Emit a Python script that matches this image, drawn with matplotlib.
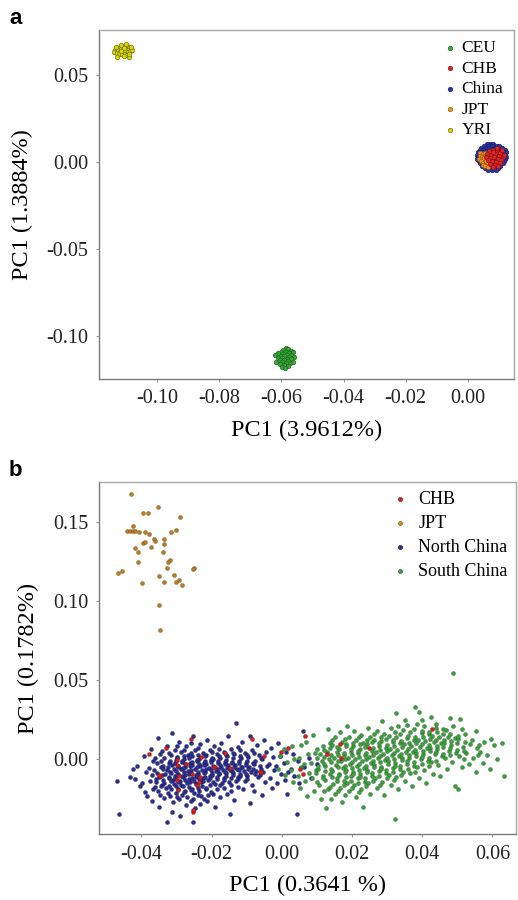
import matplotlib
matplotlib.use("Agg")
import matplotlib.pyplot as plt

plt.rcParams['font.family'] = ['Liberation Serif', 'DejaVu Serif']
plt.rcParams['axes.unicode_minus'] = False

# ---- panel a: PCA with HapMap populations ----
yri = [(-0.1128, 0.0655), (-0.1120, 0.0662), (-0.1112, 0.0668), (-0.1104, 0.0660), (-0.1097, 0.0665),
       (-0.1090, 0.0652), (-0.1134, 0.0645), (-0.1125, 0.0640), (-0.1116, 0.0648), (-0.1108, 0.0643),
       (-0.1100, 0.0650), (-0.1093, 0.0640), (-0.1085, 0.0646), (-0.1138, 0.0633), (-0.1130, 0.0628),
       (-0.1119, 0.0632), (-0.1110, 0.0627), (-0.1102, 0.0634), (-0.1095, 0.0629), (-0.1088, 0.0635),
       (-0.1080, 0.0640), (-0.1122, 0.0620), (-0.1112, 0.0617), (-0.1104, 0.0621), (-0.1096, 0.0615),
       (-0.1128, 0.0604), (-0.1106, 0.0606), (-0.1090, 0.0601), (-0.1115, 0.0672), (-0.1099, 0.0674),
       (-0.1083, 0.0658), (-0.1132, 0.0660), (-0.1107, 0.0653), (-0.1089, 0.0622), (-0.1117, 0.0638)]

ceu = [(-0.0585, -0.1068), (-0.0578, -0.1075), (-0.0594, -0.1080), (-0.0570, -0.1085), (-0.0602, -0.1090),
       (-0.0586, -0.1092), (-0.0562, -0.1095), (-0.0575, -0.1100), (-0.0595, -0.1103), (-0.0610, -0.1100),
       (-0.0583, -0.1108), (-0.0568, -0.1110), (-0.0600, -0.1113), (-0.0590, -0.1118), (-0.0576, -0.1120),
       (-0.0560, -0.1123), (-0.0612, -0.1125), (-0.0597, -0.1128), (-0.0582, -0.1130), (-0.0570, -0.1135),
       (-0.0605, -0.1138), (-0.0590, -0.1140), (-0.0578, -0.1145), (-0.0617, -0.1148), (-0.0598, -0.1150),
       (-0.0585, -0.1155), (-0.0572, -0.1158), (-0.0606, -0.1162), (-0.0592, -0.1168), (-0.0580, -0.1172),
       (-0.0598, -0.1178), (-0.0588, -0.1183), (-0.0564, -0.1150), (-0.0620, -0.1110)]

china = [(0.0070, 0.0105), (0.0082, 0.0105), (0.0061, 0.0103),
         (0.0052, 0.0092), (0.0064, 0.0092), (0.0079, 0.0092), (0.0093, 0.0092), (0.0101, 0.0092),
         (0.0043, 0.0080), (0.0057, 0.0080), (0.0068, 0.0080), (0.0088, 0.0080), (0.0098, 0.0080), (0.0110, 0.0080),
         (0.0038, 0.0067), (0.0049, 0.0067), (0.0074, 0.0067), (0.0096, 0.0067), (0.0108, 0.0067), (0.0118, 0.0067),
         (0.0034, 0.0055), (0.0046, 0.0055), (0.0061, 0.0055), (0.0102, 0.0055), (0.0114, 0.0055), (0.0122, 0.0055),
         (0.0031, 0.0042), (0.0044, 0.0042), (0.0110, 0.0042), (0.0121, 0.0042),
         (0.0033, 0.0030), (0.0041, 0.0030), (0.0112, 0.0030), (0.0124, 0.0030),
         (0.0030, 0.0017), (0.0045, 0.0017), (0.0108, 0.0017), (0.0120, 0.0017),
         (0.0035, 0.0004), (0.0049, 0.0004), (0.0103, 0.0004), (0.0116, 0.0004),
         (0.0040, -0.0009), (0.0056, -0.0009), (0.0071, -0.0009), (0.0097, -0.0009), (0.0112, -0.0009),
         (0.0047, -0.0022), (0.0062, -0.0022), (0.0079, -0.0022), (0.0091, -0.0022), (0.0105, -0.0022),
         (0.0055, -0.0035), (0.0068, -0.0035), (0.0084, -0.0035), (0.0098, -0.0035),
         (0.0064, -0.0048), (0.0078, -0.0048), (0.0090, -0.0048),
         (0.0060, 0.0060), (0.0075, 0.0075), (0.0090, 0.0065), (0.0055, 0.0040), (0.0070, 0.0030),
         (0.0085, 0.0035), (0.0100, 0.0045), (0.0060, 0.0015), (0.0080, 0.0010), (0.0095, 0.0020),
         (0.0065, -0.0005), (0.0085, -0.0010)]

chb_a = [(0.0068, 0.0062), (0.0080, 0.0070), (0.0093, 0.0058), (0.0105, 0.0050), (0.0062, 0.0045),
         (0.0075, 0.0040), (0.0088, 0.0044), (0.0100, 0.0036), (0.0112, 0.0030), (0.0058, 0.0028),
         (0.0070, 0.0022), (0.0084, 0.0026), (0.0096, 0.0018), (0.0108, 0.0012), (0.0065, 0.0008),
         (0.0078, 0.0004), (0.0091, 0.0000), (0.0103, -0.0006), (0.0072, -0.0012), (0.0086, -0.0018),
         (0.0098, -0.0024), (0.0080, -0.0032), (0.0093, 0.0080), (0.0110, 0.0068), (0.0116, 0.0042),
         (0.0082, 0.0054)]

jpt_a = [(0.0040, 0.0050), (0.0048, 0.0044), (0.0056, 0.0052), (0.0038, 0.0034), (0.0046, 0.0028),
         (0.0054, 0.0036), (0.0062, 0.0030), (0.0036, 0.0018), (0.0044, 0.0012), (0.0052, 0.0020),
         (0.0060, 0.0014), (0.0042, 0.0002), (0.0050, -0.0004), (0.0058, 0.0004), (0.0066, -0.0006),
         (0.0048, -0.0016), (0.0056, -0.0022), (0.0064, -0.0030), (0.0070, 0.0016)]

# ---- panel b: Chinese samples with CHB / JPT ----
chb_b = [(-0.0260, 0.0127), (-0.0329, 0.0074), (-0.0378, 0.0032), (-0.0298, -0.0002), (-0.0229, 0.0015),
         (-0.0272, -0.0027), (-0.0299, -0.0038), (-0.0348, -0.0103), (-0.0293, -0.0103), (-0.0257, -0.0091),
         (-0.0234, -0.0112), (-0.0236, -0.0144), (-0.0189, -0.0049), (-0.0162, 0.0042), (-0.0148, -0.0055),
         (-0.0085, 0.0128), (-0.0051, 0.0021), (-0.0062, -0.0080), (-0.0001, 0.0046), (0.0018, 0.0074),
         (0.0053, -0.0059), (0.0066, 0.0148), (0.0129, 0.0032), (0.0165, 0.0099), (0.0170, 0.0011),
         (0.0249, 0.0072), (0.0429, 0.0194), (-0.0295, -0.0196), (-0.0254, -0.0334), (0.0059, -0.0091),
         (-0.0350, -0.0101), (-0.0253, -0.0323), (-0.0193, -0.0049), (-0.0058, -0.0080), (-0.0243, -0.0165),
         (-0.0300, -0.0133)]

jpt_b = [(-0.0431, 0.1677), (-0.0352, 0.1595), (-0.0395, 0.1561), (-0.0381, 0.1559), (-0.0291, 0.1534),
         (-0.0424, 0.1477), (-0.0440, 0.1445), (-0.0433, 0.1445), (-0.0425, 0.1445), (-0.0417, 0.1445),
         (-0.0407, 0.1439), (-0.0390, 0.1437), (-0.0378, 0.1424), (-0.0302, 0.1454), (-0.0315, 0.1437),
         (-0.0417, 0.1337), (-0.0364, 0.1392), (-0.0362, 0.1382), (-0.0337, 0.1392), (-0.0395, 0.1369),
         (-0.0391, 0.1375), (-0.0373, 0.1342), (-0.0337, 0.1365), (-0.0409, 0.1312), (-0.0338, 0.1312),
         (-0.0319, 0.1259), (-0.0323, 0.1248), (-0.0409, 0.1250), (-0.0467, 0.1182), (-0.0455, 0.1193),
         (-0.0251, 0.1213), (-0.0253, 0.1205), (-0.0327, 0.1213), (-0.0397, 0.1116), (-0.0350, 0.1163),
         (-0.0336, 0.1123), (-0.0308, 0.1167), (-0.0302, 0.1125), (-0.0293, 0.1133), (-0.0285, 0.1103),
         (-0.0351, 0.0979), (-0.0346, 0.0821)]

north_china = [
    (-0.0464, -0.0348), (-0.0470, -0.0140), (-0.0432, -0.0115), (-0.0425, -0.0060),
    (-0.0412, -0.0045), (-0.0405, -0.0170), (-0.0418, -0.0122),
    (-0.0392, 0.0020), (-0.0386, -0.0082), (-0.0397, -0.0150), (-0.0389, -0.0205), (-0.0383, -0.0232),
    (-0.0373, 0.0062), (-0.0366, -0.0010), (-0.0378, -0.0058), (-0.0369, -0.0101), (-0.0375, -0.0136),
    (-0.0362, -0.0176), (-0.0371, -0.0262),
    (-0.0352, 0.0135), (-0.0346, 0.0031), (-0.0357, -0.0024), (-0.0343, -0.0052), (-0.0355, -0.0086),
    (-0.0349, -0.0111), (-0.0358, -0.0141), (-0.0341, -0.0166), (-0.0353, -0.0198), (-0.0347, -0.0226),
    (-0.0351, -0.0301),
    (-0.0328, 0.0085), (-0.0335, 0.0011), (-0.0322, -0.0021), (-0.0338, -0.0044), (-0.0326, -0.0071),
    (-0.0333, -0.0094), (-0.0321, -0.0121), (-0.0337, -0.0149), (-0.0329, -0.0181), (-0.0324, -0.0211),
    (-0.0336, -0.0244), (-0.0328, -0.0400),
    (-0.0312, 0.0165), (-0.0305, 0.0061), (-0.0317, 0.0026), (-0.0302, -0.0004), (-0.0314, -0.0036),
    (-0.0308, -0.0059), (-0.0318, -0.0081), (-0.0303, -0.0104), (-0.0311, -0.0131), (-0.0306, -0.0154),
    (-0.0315, -0.0186), (-0.0301, -0.0214), (-0.0309, -0.0271), (-0.0313, -0.0331),
    (-0.0293, 0.0110), (-0.0286, 0.0046), (-0.0298, 0.0014), (-0.0284, -0.0016), (-0.0295, -0.0041),
    (-0.0288, -0.0064), (-0.0297, -0.0091), (-0.0282, -0.0114), (-0.0291, -0.0139), (-0.0287, -0.0161),
    (-0.0296, -0.0189), (-0.0283, -0.0226), (-0.0292, -0.0254), (-0.0289, -0.0362),
    (-0.0273, 0.0081), (-0.0266, 0.0029), (-0.0278, 0.0001), (-0.0262, -0.0026), (-0.0275, -0.0049),
    (-0.0268, -0.0076), (-0.0277, -0.0099), (-0.0264, -0.0126), (-0.0271, -0.0151), (-0.0265, -0.0174),
    (-0.0276, -0.0201), (-0.0269, -0.0241), (-0.0272, -0.0289),
    (-0.0252, 0.0150), (-0.0246, 0.0056), (-0.0257, 0.0019), (-0.0243, -0.0011), (-0.0255, -0.0034),
    (-0.0248, -0.0061), (-0.0258, -0.0084), (-0.0244, -0.0111), (-0.0251, -0.0136), (-0.0245, -0.0159),
    (-0.0256, -0.0186), (-0.0249, -0.0214), (-0.0253, -0.0251), (-0.0247, -0.0311), (-0.0254, -0.0398),
    (-0.0232, 0.0096), (-0.0225, 0.0041), (-0.0237, 0.0004), (-0.0223, -0.0021), (-0.0234, -0.0044),
    (-0.0228, -0.0071), (-0.0238, -0.0096), (-0.0224, -0.0119), (-0.0231, -0.0146), (-0.0226, -0.0169),
    (-0.0236, -0.0201), (-0.0229, -0.0234), (-0.0233, -0.0281),
    (-0.0213, 0.0120), (-0.0206, 0.0059), (-0.0217, 0.0026), (-0.0203, -0.0006), (-0.0215, -0.0029),
    (-0.0208, -0.0056), (-0.0218, -0.0079), (-0.0204, -0.0106), (-0.0211, -0.0129), (-0.0205, -0.0161),
    (-0.0216, -0.0189), (-0.0209, -0.0226), (-0.0212, -0.0266),
    (-0.0192, 0.0086), (-0.0185, 0.0031), (-0.0197, -0.0001), (-0.0183, -0.0026), (-0.0194, -0.0049),
    (-0.0188, -0.0076), (-0.0198, -0.0099), (-0.0184, -0.0126), (-0.0191, -0.0154), (-0.0186, -0.0186),
    (-0.0195, -0.0219), (-0.0189, -0.0301),
    (-0.0172, 0.0105), (-0.0165, 0.0049), (-0.0177, 0.0011), (-0.0163, -0.0019), (-0.0174, -0.0046),
    (-0.0168, -0.0069), (-0.0178, -0.0096), (-0.0164, -0.0121), (-0.0171, -0.0149), (-0.0166, -0.0181),
    (-0.0175, -0.0239),
    (-0.0152, 0.0145), (-0.0145, 0.0064), (-0.0157, 0.0021), (-0.0143, -0.0016), (-0.0154, -0.0039),
    (-0.0148, -0.0066), (-0.0158, -0.0089), (-0.0144, -0.0116), (-0.0151, -0.0144), (-0.0146, -0.0201),
    (-0.0149, -0.0349),
    (-0.0130, 0.0228), (-0.0125, 0.0080), (-0.0137, 0.0031), (-0.0123, -0.0011), (-0.0134, -0.0034),
    (-0.0128, -0.0061), (-0.0138, -0.0084), (-0.0124, -0.0111), (-0.0131, -0.0139), (-0.0126, -0.0176),
    (-0.0135, -0.0259),
    (-0.0112, 0.0111), (-0.0105, 0.0039), (-0.0117, 0.0006), (-0.0103, -0.0026), (-0.0114, -0.0049),
    (-0.0108, -0.0076), (-0.0118, -0.0104), (-0.0104, -0.0136), (-0.0111, -0.0189),
    (-0.0092, 0.0150), (-0.0085, 0.0061), (-0.0097, 0.0014), (-0.0083, -0.0021), (-0.0094, -0.0049),
    (-0.0088, -0.0081), (-0.0098, -0.0109), (-0.0084, -0.0161), (-0.0091, -0.0279),
    (-0.0072, 0.0091), (-0.0065, 0.0029), (-0.0077, -0.0011), (-0.0063, -0.0044), (-0.0074, -0.0076),
    (-0.0068, -0.0114), (-0.0078, -0.0201),
    (-0.0052, 0.0121), (-0.0045, 0.0044), (-0.0057, 0.0001), (-0.0043, -0.0041), (-0.0054, -0.0079),
    (-0.0048, -0.0141), (-0.0056, -0.0229),
    (-0.0032, 0.0071), (-0.0025, 0.0016), (-0.0037, -0.0029), (-0.0023, -0.0071), (-0.0034, -0.0119),
    (-0.0028, -0.0181),
    (-0.0012, 0.0101), (-0.0005, 0.0019), (-0.0017, -0.0041), (-0.0003, -0.0094), (-0.0014, -0.0151),
    (0.0012, 0.0049), (0.0005, -0.0021), (0.0017, -0.0079), (0.0008, -0.0131), (0.0014, -0.0219),
    (0.0032, 0.0031), (0.0026, -0.0061), (0.0035, -0.0109),
    (0.0043, -0.0348), (0.0046, -0.0009), (0.0049, -0.0151),
    (0.0061, 0.0180), (0.0064, -0.0049), (0.0078, 0.0011), (0.0083, -0.0119), (0.0101, -0.0031),
    # denser core between the columns above
    (-0.0361, 0.0008), (-0.0364, -0.0070), (-0.0359, -0.0122), (-0.0366, -0.0190),
    (-0.0340, 0.0052), (-0.0344, -0.0008), (-0.0339, -0.0062), (-0.0342, -0.0099), (-0.0338, -0.0132),
    (-0.0345, -0.0172),
    (-0.0320, 0.0040), (-0.0318, -0.0012), (-0.0323, -0.0052), (-0.0316, -0.0085), (-0.0321, -0.0112),
    (-0.0317, -0.0140), (-0.0322, -0.0168), (-0.0319, -0.0230),
    (-0.0300, 0.0082), (-0.0298, 0.0008), (-0.0303, -0.0022), (-0.0296, -0.0048), (-0.0301, -0.0072),
    (-0.0299, -0.0097), (-0.0304, -0.0121), (-0.0297, -0.0147), (-0.0302, -0.0172), (-0.0300, -0.0240),
    (-0.0280, 0.0060), (-0.0278, 0.0018), (-0.0283, -0.0008), (-0.0276, -0.0033), (-0.0281, -0.0057),
    (-0.0279, -0.0083), (-0.0284, -0.0107), (-0.0277, -0.0132), (-0.0282, -0.0168), (-0.0280, -0.0210),
    (-0.0260, 0.0100), (-0.0258, 0.0040), (-0.0263, 0.0008), (-0.0256, -0.0019), (-0.0261, -0.0043),
    (-0.0259, -0.0068), (-0.0264, -0.0093), (-0.0257, -0.0118), (-0.0262, -0.0145), (-0.0260, -0.0193),
    (-0.0258, -0.0265),
    (-0.0240, 0.0072), (-0.0238, 0.0030), (-0.0243, -0.0003), (-0.0236, -0.0028), (-0.0241, -0.0052),
    (-0.0239, -0.0078), (-0.0244, -0.0102), (-0.0237, -0.0127), (-0.0242, -0.0155), (-0.0240, -0.0180),
    (-0.0238, -0.0226),
    (-0.0220, 0.0018), (-0.0218, -0.0012), (-0.0223, -0.0036), (-0.0216, -0.0063), (-0.0221, -0.0088),
    (-0.0219, -0.0112), (-0.0224, -0.0138), (-0.0217, -0.0180), (-0.0222, -0.0250),
    (-0.0200, 0.0045), (-0.0198, 0.0010), (-0.0203, -0.0017), (-0.0196, -0.0040), (-0.0201, -0.0066),
    (-0.0199, -0.0090), (-0.0204, -0.0116), (-0.0197, -0.0142), (-0.0202, -0.0205),
    (-0.0180, 0.0068), (-0.0178, 0.0020), (-0.0183, -0.0010), (-0.0176, -0.0036), (-0.0181, -0.0060),
    (-0.0179, -0.0086), (-0.0184, -0.0111), (-0.0177, -0.0165),
    (-0.0160, 0.0030), (-0.0158, -0.0005), (-0.0163, -0.0030), (-0.0156, -0.0056), (-0.0161, -0.0080),
    (-0.0159, -0.0105), (-0.0164, -0.0133), (-0.0157, -0.0220),
    (-0.0140, 0.0042), (-0.0138, 0.0005), (-0.0143, -0.0026), (-0.0136, -0.0050), (-0.0141, -0.0075),
    (-0.0139, -0.0100), (-0.0144, -0.0160),
    (-0.0120, 0.0058), (-0.0118, 0.0018), (-0.0123, -0.0022), (-0.0116, -0.0046), (-0.0121, -0.0070),
    (-0.0119, -0.0095), (-0.0124, -0.0122),
    (-0.0100, 0.0025), (-0.0098, -0.0010), (-0.0103, -0.0036), (-0.0096, -0.0064), (-0.0101, -0.0092),
    (-0.0099, -0.0125),
    (-0.0080, 0.0040), (-0.0078, -0.0032), (-0.0083, -0.0060), (-0.0076, -0.0095),
    (-0.0060, 0.0008), (-0.0058, -0.0060), (-0.0062, -0.0100)]

south_china = [
    (-0.0012, -0.0061), (-0.0006, 0.0021), (0.0008, -0.0101), (0.0014, -0.0019), (0.0005, 0.0062),
    (0.0031, -0.0142), (0.0025, -0.0069), (0.0036, 0.0001), (0.0028, 0.0081),
    (0.0052, -0.0181), (0.0045, -0.0109), (0.0056, -0.0051), (0.0048, 0.0011), (0.0054, 0.0091),
    (0.0071, -0.0231), (0.0066, -0.0139), (0.0077, -0.0086), (0.0063, -0.0029), (0.0074, 0.0031),
    (0.0068, 0.0112),
    (0.0092, -0.0201), (0.0085, -0.0121), (0.0097, -0.0069), (0.0083, -0.0021), (0.0094, 0.0041),
    (0.0088, 0.0151),
    (0.0112, -0.0249), (0.0105, -0.0161), (0.0117, -0.0104), (0.0103, -0.0061), (0.0114, -0.0014),
    (0.0108, 0.0031), (0.0118, 0.0086),
    (0.0127, -0.0311), (0.0133, -0.0191), (0.0124, -0.0134), (0.0137, -0.0091), (0.0122, -0.0044),
    (0.0135, 0.0001), (0.0128, 0.0046), (0.0138, 0.0101), (0.0131, 0.0191),
    (0.0152, -0.0221), (0.0145, -0.0159), (0.0157, -0.0116), (0.0143, -0.0074), (0.0154, -0.0036),
    (0.0148, 0.0006), (0.0158, 0.0044), (0.0144, 0.0091), (0.0151, 0.0139),
    (0.0172, -0.0271), (0.0165, -0.0179), (0.0177, -0.0136), (0.0163, -0.0094), (0.0174, -0.0056),
    (0.0168, -0.0014), (0.0178, 0.0026), (0.0164, 0.0064), (0.0171, 0.0111), (0.0166, 0.0171),
    (0.0192, -0.0199), (0.0185, -0.0151), (0.0197, -0.0109), (0.0183, -0.0071), (0.0194, -0.0029),
    (0.0188, 0.0011), (0.0198, 0.0049), (0.0184, 0.0096), (0.0191, 0.0144), (0.0186, 0.0211),
    (0.0212, -0.0241), (0.0205, -0.0164), (0.0217, -0.0121), (0.0203, -0.0079), (0.0214, -0.0041),
    (0.0208, 0.0001), (0.0218, 0.0039), (0.0204, 0.0081), (0.0211, 0.0124), (0.0206, 0.0181),
    (0.0232, -0.0301), (0.0225, -0.0189), (0.0237, -0.0141), (0.0223, -0.0094), (0.0234, -0.0056),
    (0.0228, -0.0014), (0.0238, 0.0024), (0.0224, 0.0066), (0.0231, 0.0104), (0.0226, 0.0156),
    (0.0252, -0.0219), (0.0245, -0.0151), (0.0257, -0.0104), (0.0243, -0.0066), (0.0254, -0.0024),
    (0.0248, 0.0016), (0.0258, 0.0054), (0.0244, 0.0096), (0.0251, 0.0139), (0.0246, 0.0201),
    (0.0272, -0.0181), (0.0265, -0.0119), (0.0277, -0.0076), (0.0263, -0.0034), (0.0274, 0.0006),
    (0.0268, 0.0044), (0.0278, 0.0086), (0.0264, 0.0124), (0.0271, 0.0176),
    (0.0292, -0.0229), (0.0285, -0.0141), (0.0297, -0.0089), (0.0283, -0.0046), (0.0294, -0.0004),
    (0.0288, 0.0036), (0.0298, 0.0074), (0.0284, 0.0116), (0.0291, 0.0159), (0.0286, 0.0241),
    (0.0312, -0.0161), (0.0305, -0.0099), (0.0317, -0.0056), (0.0303, -0.0014), (0.0314, 0.0026),
    (0.0308, 0.0064), (0.0318, 0.0111), (0.0304, 0.0149), (0.0311, 0.0201), (0.0322, -0.0380),
    (0.0332, -0.0189), (0.0325, -0.0111), (0.0337, -0.0059), (0.0323, -0.0021), (0.0334, 0.0021),
    (0.0328, 0.0059), (0.0338, 0.0101), (0.0324, 0.0144), (0.0331, 0.0211), (0.0326, 0.0291),
    (0.0352, -0.0139), (0.0345, -0.0081), (0.0357, -0.0029), (0.0343, 0.0011), (0.0354, 0.0049),
    (0.0348, 0.0096), (0.0358, 0.0134), (0.0344, 0.0186), (0.0351, 0.0249),
    (0.0372, -0.0171), (0.0365, -0.0089), (0.0377, -0.0041), (0.0363, 0.0006), (0.0374, 0.0044),
    (0.0368, 0.0086), (0.0378, 0.0124), (0.0364, 0.0171), (0.0380, 0.0330),
    (0.0392, -0.0119), (0.0385, -0.0051), (0.0397, 0.0001), (0.0383, 0.0041), (0.0394, 0.0079),
    (0.0388, 0.0121), (0.0398, 0.0164), (0.0384, 0.0221), (0.0391, 0.0301),
    (0.0412, -0.0149), (0.0405, -0.0066), (0.0417, -0.0009), (0.0403, 0.0036), (0.0414, 0.0074),
    (0.0408, 0.0116), (0.0418, 0.0159), (0.0404, 0.0211),
    (0.0432, -0.0091), (0.0425, -0.0019), (0.0437, 0.0031), (0.0423, 0.0069), (0.0434, 0.0111),
    (0.0428, 0.0149), (0.0438, 0.0201), (0.0424, 0.0266),
    (0.0452, -0.0109), (0.0445, -0.0036), (0.0457, 0.0021), (0.0443, 0.0064), (0.0454, 0.0106),
    (0.0448, 0.0144), (0.0458, 0.0191),
    (0.0472, -0.0061), (0.0465, 0.0006), (0.0477, 0.0054), (0.0463, 0.0101), (0.0474, 0.0139),
    (0.0468, 0.0186), (0.0478, 0.0259), (0.0487, 0.0544),
    (0.0492, -0.0171), (0.0485, -0.0019), (0.0497, 0.0041), (0.0483, 0.0089), (0.0494, 0.0136),
    (0.0488, 0.0209), (0.0502, -0.0186),
    (0.0512, -0.0049), (0.0505, 0.0021), (0.0517, 0.0079), (0.0503, 0.0131), (0.0514, 0.0189),
    (0.0508, 0.0256),
    (0.0532, -0.0031), (0.0525, 0.0041), (0.0537, 0.0099), (0.0523, 0.0161),
    (0.0552, -0.0079), (0.0545, 0.0011), (0.0557, 0.0071), (0.0543, 0.0119), (0.0554, 0.0181),
    (0.0572, -0.0021), (0.0565, 0.0049), (0.0577, 0.0111),
    (0.0592, -0.0061), (0.0585, 0.0029), (0.0597, 0.0131),
    (0.0612, 0.0001), (0.0605, 0.0091), (0.0632, -0.0108), (0.0626, 0.0101),
    # denser core between the columns above
    (0.0100, -0.0142), (0.0098, -0.0090), (0.0102, -0.0040), (0.0099, 0.0010), (0.0101, 0.0062),
    (0.0120, -0.0200), (0.0118, -0.0118), (0.0122, -0.0075), (0.0119, -0.0030), (0.0121, 0.0015),
    (0.0120, 0.0060),
    (0.0140, -0.0250), (0.0138, -0.0175), (0.0142, -0.0110), (0.0139, -0.0060), (0.0141, -0.0018),
    (0.0140, 0.0025), (0.0138, 0.0070), (0.0142, 0.0120),
    (0.0160, -0.0200), (0.0158, -0.0140), (0.0162, -0.0100), (0.0159, -0.0050), (0.0161, -0.0010),
    (0.0160, 0.0030), (0.0158, 0.0078),
    (0.0180, -0.0225), (0.0178, -0.0160), (0.0182, -0.0115), (0.0179, -0.0080), (0.0181, -0.0040),
    (0.0180, 0.0000), (0.0178, 0.0042), (0.0182, 0.0085), (0.0180, 0.0130),
    (0.0200, -0.0180), (0.0198, -0.0135), (0.0202, -0.0095), (0.0199, -0.0055), (0.0201, -0.0015),
    (0.0200, 0.0025), (0.0198, 0.0062), (0.0202, 0.0105),
    (0.0220, -0.0205), (0.0218, -0.0150), (0.0222, -0.0110), (0.0219, -0.0068), (0.0221, -0.0028),
    (0.0220, 0.0012), (0.0218, 0.0052), (0.0222, 0.0095), (0.0220, 0.0140),
    (0.0240, -0.0170), (0.0238, -0.0120), (0.0242, -0.0080), (0.0239, -0.0040), (0.0241, 0.0000),
    (0.0240, 0.0038), (0.0238, 0.0080), (0.0242, 0.0122),
    (0.0260, -0.0135), (0.0258, -0.0090), (0.0262, -0.0050), (0.0259, -0.0010), (0.0261, 0.0030),
    (0.0260, 0.0070), (0.0258, 0.0110), (0.0262, 0.0160),
    (0.0280, -0.0160), (0.0278, -0.0105), (0.0282, -0.0060), (0.0279, -0.0020), (0.0281, 0.0020),
    (0.0280, 0.0060), (0.0278, 0.0100), (0.0282, 0.0140),
    (0.0300, -0.0120), (0.0298, -0.0070), (0.0302, -0.0030), (0.0299, 0.0010), (0.0301, 0.0050),
    (0.0300, 0.0090), (0.0298, 0.0130),
    (0.0320, -0.0130), (0.0318, -0.0080), (0.0322, -0.0040), (0.0319, 0.0000), (0.0321, 0.0042),
    (0.0320, 0.0082), (0.0318, 0.0122), (0.0322, 0.0170),
    (0.0340, -0.0100), (0.0338, -0.0045), (0.0342, -0.0005), (0.0339, 0.0035), (0.0341, 0.0075),
    (0.0340, 0.0115), (0.0338, 0.0160),
    (0.0360, -0.0060), (0.0358, -0.0010), (0.0362, 0.0030), (0.0359, 0.0068), (0.0361, 0.0105),
    (0.0360, 0.0150), (0.0358, 0.0215),
    (0.0380, -0.0080), (0.0378, -0.0020), (0.0382, 0.0022), (0.0379, 0.0060), (0.0381, 0.0100),
    (0.0380, 0.0140), (0.0378, 0.0190),
    (0.0400, -0.0030), (0.0398, 0.0015), (0.0402, 0.0055), (0.0399, 0.0095), (0.0401, 0.0138),
    (0.0400, 0.0180), (0.0398, 0.0250),
    (0.0420, -0.0045), (0.0418, 0.0010), (0.0422, 0.0050), (0.0419, 0.0090), (0.0421, 0.0130),
    (0.0420, 0.0175),
    (0.0440, -0.0010), (0.0438, 0.0045), (0.0442, 0.0085), (0.0439, 0.0125), (0.0441, 0.0170),
    (0.0440, 0.0225),
    (0.0460, 0.0035), (0.0458, 0.0080), (0.0462, 0.0120), (0.0460, 0.0160),
    (0.0480, 0.0025), (0.0478, 0.0070), (0.0482, 0.0115), (0.0480, 0.0160),
    (0.0500, 0.0060), (0.0498, 0.0105), (0.0502, 0.0150),
    (0.0520, 0.0000), (0.0518, 0.0050), (0.0522, 0.0110),
    (0.0560, 0.0030), (0.0562, 0.0090)]

xticks_a = [-0.10, -0.08, -0.06, -0.04, -0.02, 0.00]
yticks_a = [-0.10, -0.05, 0.00, 0.05]
xticks_b = [-0.04, -0.02, 0.00, 0.02, 0.04, 0.06]
yticks_b = [0.00, 0.05, 0.10, 0.15]


def pts(data):
    xs, ys = zip(*data)
    return list(xs), list(ys)


def style_axes(ax):
    for side in ['left', 'bottom']:
        ax.spines[side].set_color('#7a7a7a')
        ax.spines[side].set_linewidth(1.0)
    for side in ['top', 'right']:
        ax.spines[side].set_color('#a8a8a8')
        ax.spines[side].set_linewidth(1.0)
    ax.tick_params(direction='out', length=2.5, width=0.8, color='#9a9a9a',
                   labelsize=14.5, labelcolor='#222222', pad=5)


fig = plt.figure(figsize=(5.18, 9.0), dpi=100)
ax1 = fig.add_axes([0.191, 0.579, 0.801, 0.388])
ax2 = fig.add_axes([0.191, 0.073, 0.805, 0.391])

# panel a
groups_a = [
    ('CEU', ceu, '#35a535', '#1d5e1d'),
    ('CHB', chb_a, '#e02424', '#7a1010'),
    ('China', china, '#2c36a6', '#141a60'),
    ('JPT', jpt_a, '#f0921e', '#8a520c'),
    ('YRI', yri, '#d8d400', '#66640a'),
]
draw_order = {'China': 3, 'JPT': 4, 'CHB': 5, 'CEU': 3, 'YRI': 3}
for name, data, fc, ec in groups_a:
    x, y = pts(data)
    ax1.scatter(x, y, s=11, c=fc, edgecolors=ec, linewidths=0.4, zorder=draw_order[name])

handles_a = [ax1.scatter([], [], s=11, c=fc, edgecolors=ec, linewidths=0.4, label=name)
             for name, _, fc, ec in groups_a]
ax1.legend(handles=handles_a, loc='upper right', bbox_to_anchor=(1.0, 1.0), frameon=False,
           fontsize=12.5, handletextpad=0.1, labelspacing=0.25, borderaxespad=0.2,
           handlelength=1.2)

ax1.set_xlim(-0.1187, 0.0148)
ax1.set_ylim(-0.1247, 0.0759)
ax1.set_xticks(xticks_a)
ax1.set_yticks(yticks_a)
ax1.set_xticklabels(['%.2f' % v for v in xticks_a])
ax1.set_yticklabels(['%.2f' % v for v in yticks_a])
ax1.set_xlabel('PC1 (3.9612%)', fontsize=17.5, labelpad=8)
ax1.set_ylabel('PC1 (1.3884%)', fontsize=17.5, labelpad=10)
style_axes(ax1)

# panel b
x, y = pts(north_china)
ax2.scatter(x, y, s=8, c='#2b2e8e', edgecolors='#181a5a', linewidths=0.3, zorder=3)
x, y = pts(south_china)
ax2.scatter(x, y, s=8, c='#3d9e3d', edgecolors='#24682a', linewidths=0.3, zorder=3)
x, y = pts(chb_b)
ax2.scatter(x, y, s=8, c='#d61e1e', edgecolors='#7a1010', linewidths=0.3, zorder=4)
x, y = pts(jpt_b)
ax2.scatter(x, y, s=8, c='#b87c2a', edgecolors='#7a5015', linewidths=0.3, zorder=4)

groups_b = [
    ('CHB', '#d61e1e', '#7a1010'),
    ('JPT', '#e08a1e', '#8a520c'),
    ('North China', '#2b2e8e', '#181a5a'),
    ('South China', '#3d9e3d', '#24682a'),
]
handles_b = [ax2.scatter([], [], s=9, c=fc, edgecolors=ec, linewidths=0.4, label=name)
             for name, fc, ec in groups_b]
ax2.legend(handles=handles_b, loc='upper right', bbox_to_anchor=(1.0, 1.0), frameon=False,
           fontsize=13, handletextpad=0.4, labelspacing=0.4, borderaxespad=0.05,
           handlelength=1.2)

ax2.set_xlim(-0.0521, 0.0667)
ax2.set_ylim(-0.0475, 0.1753)
ax2.set_xticks(xticks_b)
ax2.set_yticks(yticks_b)
ax2.set_xticklabels(['%.2f' % v for v in xticks_b])
ax2.set_yticklabels(['%.2f' % v for v in yticks_b])
ax2.set_xlabel('PC1 (0.3641 %)', fontsize=17.5, labelpad=8)
ax2.set_ylabel('PC1 (0.1782%)', fontsize=17.5, labelpad=10)
style_axes(ax2)

fig.text(0.018, 0.979, 'a', fontsize=16, fontweight='bold', family='Liberation Sans', va='center')
fig.text(0.016, 0.477, 'b', fontsize=16, fontweight='bold', family='Liberation Sans', va='center')

fig.savefig('out.png', dpi=100)
